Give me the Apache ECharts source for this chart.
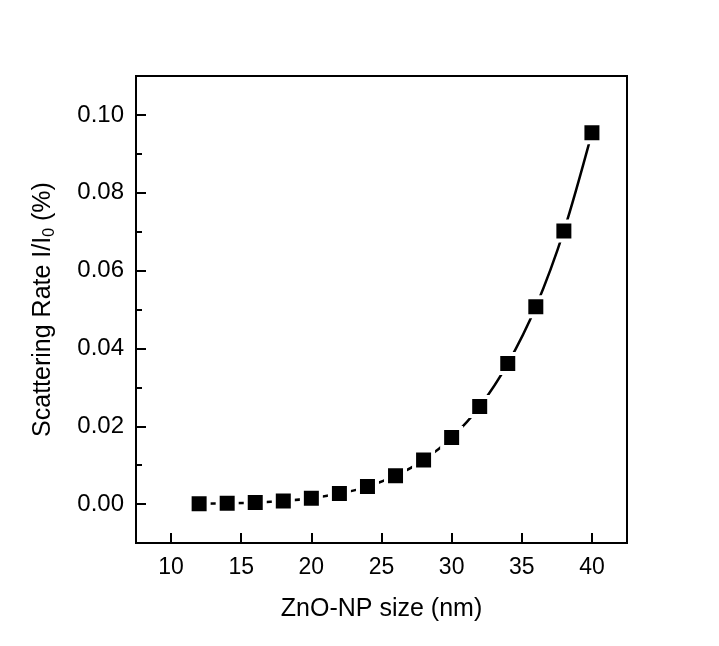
<!DOCTYPE html>
<html>
<head>
<meta charset="utf-8">
<script src="https://cdn.jsdelivr.net/npm/echarts@6/dist/echarts.min.js"></script>
<style>html,body{margin:0;padding:0;background:#fff;}#c{width:719px;height:646px;}</style>
</head>
<body>
<div id="c"></div>
<script>
var sizes = [12, 14, 16, 18, 20, 22, 24, 26, 28, 30, 32, 34, 36, 38, 40];
var rates = [0.0001, 0.0002, 0.0004, 0.0008, 0.0015, 0.0027, 0.0045, 0.0073, 0.0113, 0.0171, 0.0251, 0.0361, 0.0507, 0.0702, 0.0954];
var xTicks = [10, 15, 20, 25, 30, 35, 40];
var yTicks = [0.00, 0.02, 0.04, 0.06, 0.08, 0.10];

var chart = echarts.init(document.getElementById('c'));
var font = 'Liberation Sans, Arial, sans-serif';
var data = sizes.map(function (s, i) { return [s, rates[i]]; });
chart.setOption({
  backgroundColor: '#fff',
  animation: false,
  grid: { left: 136, top: 76, right: 92, bottom: 103, show: true, borderColor: '#000', borderWidth: 2, backgroundColor: 'transparent' },
  xAxis: {
    type: 'value', min: 7.5, max: 42.5, interval: 5,
    name: 'ZnO-NP size (nm)', nameLocation: 'middle', nameGap: 54,
    nameTextStyle: { fontFamily: font, fontSize: 25, color: '#000' },
    axisLine: { show: true, onZero: false, lineStyle: { color: '#000', width: 2 } },
    axisTick: { show: true, inside: true, length: 10, lineStyle: { color: '#000', width: 2 }, customValues: xTicks },
    minorTick: { show: true, splitNumber: 2, length: 6, lineStyle: { color: '#000', width: 2 } },
    axisLabel: { fontFamily: font, fontSize: 23, color: '#000', margin: 13, customValues: xTicks, formatter: function (v) { return String(v); } },
    splitLine: { show: false }
  },
  yAxis: {
    type: 'value', min: -0.01, max: 0.11,
    name: 'Scattering Rate I/I{sub|0} (%)', nameLocation: 'middle', nameGap: 78,
    nameTextStyle: { fontFamily: font, fontSize: 25, color: '#000', lineHeight: 30,
      rich: { sub: { fontFamily: font, fontSize: 16, color: '#000', verticalAlign: 'bottom', lineHeight: 12 } } },
    axisLine: { show: true, onZero: false, lineStyle: { color: '#000', width: 2 } },
    axisTick: { show: true, inside: true, length: 10, lineStyle: { color: '#000', width: 2 }, customValues: yTicks },
    minorTick: { show: true, splitNumber: 2, length: 6, lineStyle: { color: '#000', width: 2 } },
    axisLabel: { fontFamily: font, fontSize: 24, color: '#000', margin: 12, customValues: yTicks, formatter: function (v) { return v.toFixed(2); } },
    splitLine: { show: false }
  },
  series: [{
    type: 'line', data: data, smooth: 0.3,
    symbol: 'rect', symbolSize: 19,
    itemStyle: { color: '#000', borderColor: '#fff', borderWidth: 4 },
    lineStyle: { color: '#000', width: 2.5 },
    z: 3
  }]
});
</script>
</body>
</html>
